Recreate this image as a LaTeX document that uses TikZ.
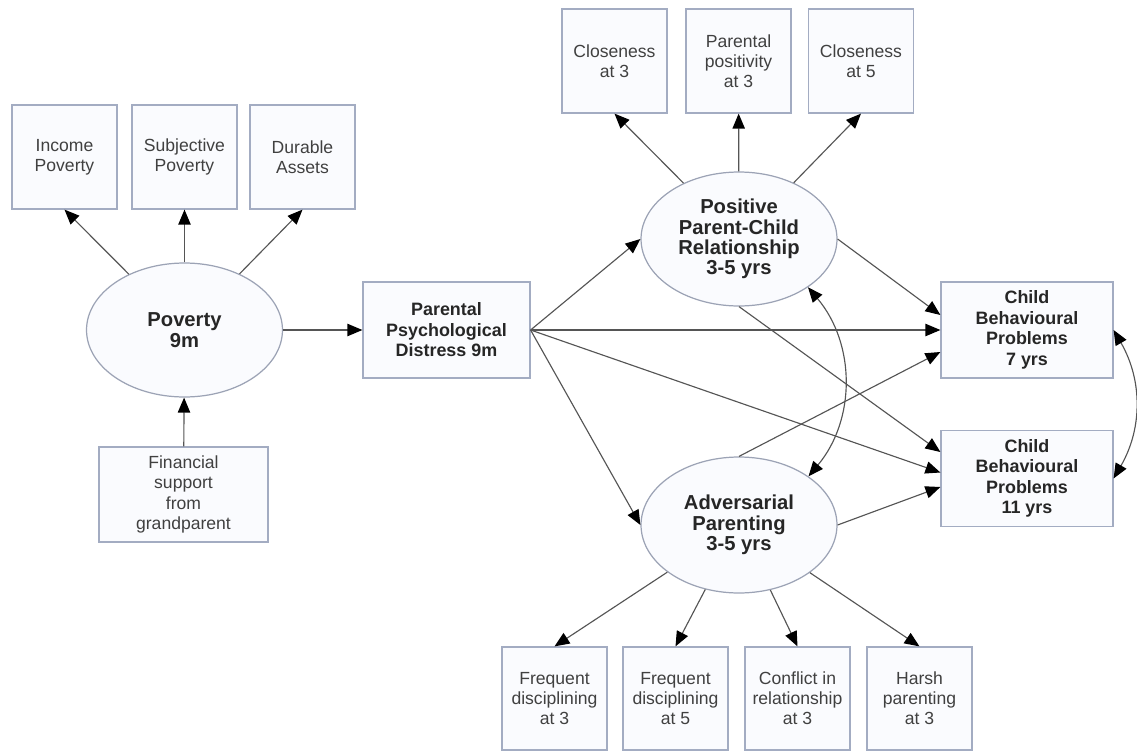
\documentclass[tikz,border=0pt]{standalone}
\usepackage{fontspec}
\setmainfont{Liberation Sans}
\usetikzlibrary{shapes.geometric, arrows.meta}

\definecolor{boxline}{HTML}{A3ACC2}
\definecolor{boxfill}{HTML}{FAFBFE}
\definecolor{boxtext}{HTML}{404040}
\definecolor{arrline}{HTML}{555555}

\tikzset{
  box/.style={draw=boxline, fill=boxfill, line width=0.7pt, inner sep=0pt,
    minimum width=2.1cm, minimum height=2.08cm, align=center,
    text=boxtext, font=\fontsize{10}{11.5}\selectfont},
  boldbox/.style={box, minimum width=3.38cm, minimum height=1.92cm,
    text=black!85, font=\fontsize{10.2}{11.7}\selectfont\bfseries},
  latent/.style={ellipse, draw=boxline!80!gray, fill=boxfill, line width=0.7pt,
    inner sep=0pt, minimum width=3.92cm, minimum height=2.68cm, align=center,
    text=black!85, font=\fontsize{11.5}{11.6}\selectfont\bfseries},
  arr/.style={draw=arrline, line width=0.65pt,
    -{Triangle[length=8.5pt,width=7pt,color=black]}},
  twoway/.style={draw=arrline, line width=0.65pt,
    {Triangle[length=8.5pt,width=7pt,color=black]}-{Triangle[length=8.5pt,width=7pt,color=black]}}
}

\begin{document}
\begin{tikzpicture}[x=0.02cm, y=-0.02cm]
    \useasboundingbox (0, 0) rectangle (1137, 751);

    % poverty block
    \node [box] (inc) at (64.5, 157) {Income\\Poverty};
    \node [box] (subj) at (184.5, 157) {Subjective\\Poverty};
    \node [box] (dur) at (302.5, 157) {Durable\\Assets};
    \node [latent] (pov) at (184.5, 330) {Poverty\\9m};
    \node [box, minimum width=3.38cm, minimum height=1.9cm] (fin) at (183.5, 494.5)
      {Financial\\support\\from\\grandparent};

    \node [boldbox, minimum width=3.34cm] (dist) at (446.5, 330) {Parental\\Psychological\\Distress 9m};

    % parenting block
    \node [box] (close3) at (614.5, 61) {Closeness\\at 3};
    \node [box] (posit3) at (738.5, 61) {Parental\\positivity\\at 3};
    \node [box] (close5) at (861, 61) {Closeness\\at 5};
    \node [latent] (ppc) at (739, 239) {Positive\\Parent-Child\\Relationship\\3-5 yrs};
    \node [latent, minimum height=2.72cm] (adv) at (739, 525) {Adversarial\\Parenting\\3-5 yrs};

    \node [box, minimum height=2.06cm] (disc3) at (554.5, 698.5) {Frequent\\disciplining\\at 3};
    \node [box, minimum height=2.06cm] (disc5) at (675.5, 698.5) {Frequent\\disciplining\\at 5};
    \node [box, minimum height=2.06cm] (confl3) at (797.5, 698.5) {Conflict in\\relationship\\at 3};
    \node [box, minimum height=2.06cm] (harsh3) at (919.5, 698.5) {Harsh\\parenting\\at 3};

    % outcomes
    \node [boldbox, minimum width=3.44cm] (cbp7) at (1027, 330) {Child\\Behavioural\\Problems\\7 yrs};
    \node [boldbox, minimum width=3.44cm] (cbp11) at (1027, 478.5) {Child\\Behavioural\\Problems\\11 yrs};

    \draw [arr] (pov) -- (inc.south);
    \draw [arr] (pov) -- (subj);
    \draw [arr] (pov) -- (dur.south);
    \draw [arr] (fin) -- (pov);
    \draw [arr] (pov) -- (dist);

    \draw [arr] (ppc) -- (close3.south);
    \draw [arr] (ppc) -- (posit3);
    \draw [arr] (ppc) -- (close5.south);

    \draw [arr] (dist.east) -- (ppc.west);
    \draw [arr] (dist.east) -- (adv.west);
    \draw [arr] (dist.east) -- (cbp7.west);
    \draw [arr] (dist.east) -- ([yshift=1.2mm]cbp11.west);

    \draw [arr] (ppc.east) -- ([yshift=3mm]cbp7.west);
    \draw [arr] (ppc.south) -- ([yshift=5.3mm]cbp11.west);
    \draw [arr] (adv.north) -- ([yshift=-4.4mm]cbp7.west);
    \draw [arr] (adv.east) -- ([yshift=-1.7mm]cbp11.west);

    \draw [arr] (adv) -- (disc3.north);
    \draw [arr] (adv) -- (disc5.north);
    \draw [arr] (adv) -- (confl3.north);
    \draw [arr] (adv) -- (harsh3.north);

    \draw [twoway] (ppc.-35) to [bend left=40] (adv.35);
    \draw [twoway] (cbp7.east) to [bend left=30] (cbp11.east);
  \end{tikzpicture}
\end{document}
